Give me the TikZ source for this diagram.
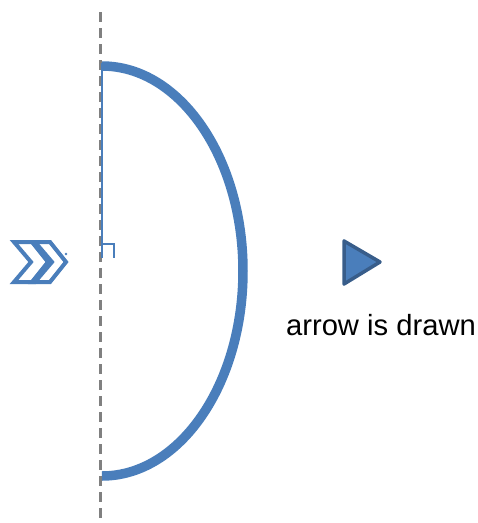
\documentclass[tikz,border=0pt]{standalone}
\usepackage{fontspec}
\setmainfont{Liberation Sans}
\usetikzlibrary{positioning}
\definecolor{accent}{HTML}{4A7EBB}
\definecolor{accentdark}{HTML}{385D8A}
\definecolor{guide}{HTML}{808080}

\begin{document}
\begin{tikzpicture}[x=1pt,y=-1pt]
  \useasboundingbox (0,0) rectangle (478,523);
  % Axis
  \coordinate (axtop) at (100,12);
  \coordinate (axbot) at (100,523);
  \draw[guide, line width=3pt, dash pattern=on 10pt off 6pt] (axtop) -- (axbot);

  % Thin guide with corner mark
  \draw[accent, line width=1.5pt] (102,63) -- (102,258);
  \draw[accent, line width=1.5pt] (102,244) -- (114,244) -- (114,258);

  % Half ellipse
  \coordinate (arctop) at (102,66);
  \draw[accent, line width=9.5pt] (arctop) arc[start angle=-90, end angle=90, x radius=141, y radius=205];

  % Chevrons
  \draw[accent, line width=4pt, line join=miter]
    (14,242) -- (35,242) -- (52,262) -- (35,282) -- (14,282) -- (31,262) -- cycle;
  \draw[accent, line width=4pt, line join=miter]
    (32,242) -- (50,242) -- (66,262) -- (50,282) -- (32,282) -- (48,262) -- cycle;
  \fill[accent] (66,254) circle (1.3);

  % Arrow head
  \draw[accentdark, fill=accent, line width=3.5pt, line join=round]
    (344,241) -- (380,262) -- (344,284) -- cycle;
  \node[font=\fontsize{29.2}{32}\selectfont] (lbl) at (381,325) {arrow is drawn};
\end{tikzpicture}
\end{document}
